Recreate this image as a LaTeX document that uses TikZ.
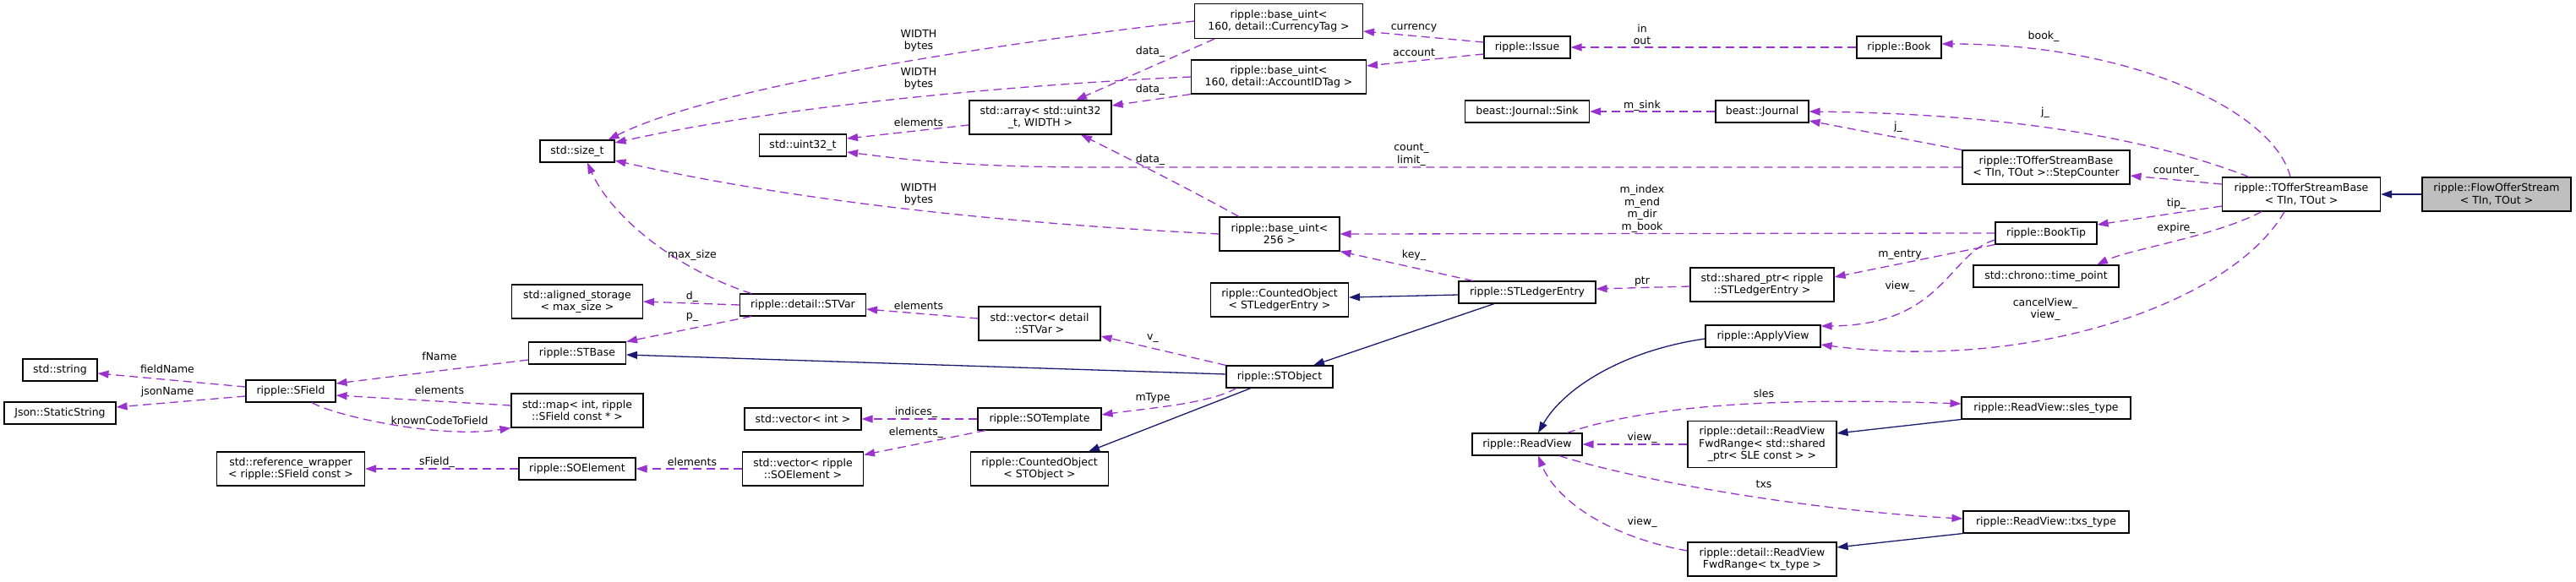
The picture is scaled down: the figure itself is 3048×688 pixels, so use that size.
\documentclass[tikz,border=0pt]{standalone}
\usepackage{fontspec}
\setmainfont{DejaVu Sans}
\usetikzlibrary{arrows.meta}
\definecolor{dxPurple}{HTML}{9A32CD}
\definecolor{dxNavy}{HTML}{191970}
\definecolor{dxGray}{HTML}{BFBFBF}
\newcommand{\dxfont}{\fontsize{12.5}{14.5}\selectfont}

\begin{document}
\begin{tikzpicture}[
  x=1pt,
  y=-1pt,
  cls/.style={
    draw=black,
    fill=white,
    line width=1.1pt,
    align=center,
    inner sep=0pt,
    font=\dxfont
  },
  current/.style={cls, fill=dxGray},
  elabel/.style={font=\dxfont, align=center, inner sep=0pt},
  member/.style={
    draw=dxPurple,
    line width=1.3pt,
    dash pattern=on 10pt off 6pt,
    -{Triangle[length=13pt,width=9pt]}
  },
  inherit/.style={
    draw=dxNavy,
    line width=1.3pt,
    -{Triangle[length=13pt,width=9pt]}
  }
]

\path[use as bounding box] (0,0) rectangle (3048,688);

% classes, column by column
\node[cls, minimum width=88, minimum height=26] (stdstring) at (71,438) {std::string};
\node[cls, minimum width=132, minimum height=26] (staticstr) at (71,489) {Json::StaticString};

\node[cls, minimum width=106, minimum height=26] (sfield) at (344,463) {ripple::SField};
\node[cls, minimum width=175, minimum height=40] (refwrap) at (344,555)
  {std::reference\_wrapper\\< ripple::SField const >};

\node[cls, minimum width=88, minimum height=26] (sizet) at (683,179) {std::size\_t};
\node[cls, minimum width=155, minimum height=40] (alignstor) at (683,357)
  {std::aligned\_storage\\< max\_size >};
\node[cls, minimum width=115, minimum height=26] (stbase) at (683,418) {ripple::STBase};
\node[cls, minimum width=156, minimum height=40] (stdmap) at (683,486)
  {std::map< int, ripple\\::SField const * >};
\node[cls, minimum width=138, minimum height=26] (soelem) at (683,555) {ripple::SOElement};

\node[cls, minimum width=103, minimum height=26] (uint32) at (950,172) {std::uint32\_t};
\node[cls, minimum width=149, minimum height=26] (stvar) at (950,361) {ripple::detail::STVar};
\node[cls, minimum width=138, minimum height=26] (vecint) at (950,496) {std::vector< int >};
\node[cls, minimum width=143, minimum height=40] (vecsoelem) at (950,555)
  {std::vector< ripple\\::SOElement >};

\node[cls, minimum width=168, minimum height=40] (stdarray) at (1231,139)
  {std::array< std::uint32\\\_t, WIDTH >};
\node[cls, minimum width=144, minimum height=40] (vecstvar) at (1230,383)
  {std::vector< detail\\::STVar >};
\node[cls, minimum width=146, minimum height=26] (sotemplate) at (1230,496) {ripple::SOTemplate};
\node[cls, minimum width=163, minimum height=40] (cntstobj) at (1230,555)
  {ripple::CountedObject\\< STObject >};

\node[cls, minimum width=199, minimum height=41] (uintcur) at (1513,25)
  {ripple::base\_uint<\\ 160, detail::CurrencyTag >};
\node[cls, minimum width=207, minimum height=40] (uintacc) at (1513,91)
  {ripple::base\_uint<\\ 160, detail::AccountIDTag >};
\node[cls, minimum width=142, minimum height=40] (uint256) at (1514,277)
  {ripple::base\_uint<\\ 256 >};
\node[cls, minimum width=163, minimum height=40] (cntsle) at (1514,355)
  {ripple::CountedObject\\< STLedgerEntry >};
\node[cls, minimum width=126, minimum height=26] (stobject) at (1514,446) {ripple::STObject};

\node[cls, minimum width=102, minimum height=26] (issue) at (1807,56) {ripple::Issue};
\node[cls, minimum width=147, minimum height=26] (sink) at (1807,132) {beast::Journal::Sink};
\node[cls, minimum width=162, minimum height=26] (stle) at (1807,346) {ripple::STLedgerEntry};
\node[cls, minimum width=130, minimum height=26] (readview) at (1807,526) {ripple::ReadView};

\node[cls, minimum width=110, minimum height=26] (journal) at (2085,132) {beast::Journal};
\node[cls, minimum width=170, minimum height=40] (sharedptr) at (2085,337)
  {std::shared\_ptr< ripple\\::STLedgerEntry >};
\node[cls, minimum width=136, minimum height=26] (applyview) at (2086,398) {ripple::ApplyView};
\node[cls, minimum width=176, minimum height=55] (fwdsle) at (2085,526)
  {ripple::detail::ReadView\\FwdRange< std::shared\\\_ptr< SLE const > >};
\node[cls, minimum width=176, minimum height=40] (fwdtx) at (2085,662)
  {ripple::detail::ReadView\\FwdRange< tx\_type >};

\node[cls, minimum width=100, minimum height=26] (book) at (2247,56) {ripple::Book};
\node[cls, minimum width=198, minimum height=40] (stepcnt) at (2421,198)
  {ripple::TOfferStreamBase\\< TIn, TOut >::StepCounter};
\node[cls, minimum width=120, minimum height=26] (booktip) at (2421,276) {ripple::BookTip};
\node[cls, minimum width=172, minimum height=26] (timepoint) at (2421,327) {std::chrono::time\_point};
\node[cls, minimum width=200, minimum height=26] (slestype) at (2421,483) {ripple::ReadView::sles\_type};
\node[cls, minimum width=196, minimum height=26] (txstype) at (2421,618) {ripple::ReadView::txs\_type};

\node[cls, minimum width=187, minimum height=40] (tosbase) at (2723,230)
  {ripple::TOfferStreamBase\\< TIn, TOut >};
\node[current, minimum width=176, minimum height=40] (flowos) at (2954,230)
  {ripple::FlowOfferStream\\< TIn, TOut >};

% inheritance
\draw[inherit] (flowos.west) -- (tosbase.east);
\draw[inherit] ([yshift=-3pt]stle.west) -- ([yshift=3pt]cntsle.east);
\draw[inherit] ([xshift=-39pt]stle.south) -- ([xshift=40pt]stobject.north);
\draw[inherit] ([yshift=3pt]stobject.west) -- ([yshift=-2pt]stbase.east);
\draw[inherit] ([xshift=-34pt]stobject.south) -- ([xshift=58pt]cntstobj.north);
\draw[inherit] ([yshift=-3pt]applyview.west) .. controls (1920,415) and (1850,460) .. ([xshift=13pt]readview.north);
\draw[inherit] (slestype.south west) -- ([yshift=13pt]fwdsle.east);
\draw[inherit] (txstype.south west) -- ([yshift=14pt]fwdtx.east);

% members
\draw[member] (uintcur.west) .. controls (1150,55) and (840,105) .. ([xshift=-8pt]sizet.north east);
\draw[member] (uintacc.west) .. controls (1250,98) and (950,120) .. ([yshift=10pt]sizet.east);
\draw[member] (uint256.west) .. controls (1200,265) and (950,240) .. ([yshift=-11pt]sizet.east);
\draw[member] ([xshift=-61pt]stvar.north) .. controls (790,315) and (720,250) .. ([xshift=12pt]sizet.south);
\draw[member] ([xshift=-76pt]uintcur.south) -- ([xshift=42pt]stdarray.north);
\draw[member] (uintacc.south west) -- ([yshift=14pt]stdarray.east);
\draw[member] ([xshift=-48pt]uint256.north) .. controls (1400,220) and (1320,180) .. ([xshift=48pt]stdarray.south);
\draw[member] ([yshift=-9pt]stdarray.west) -- ([yshift=8pt]uint32.east);
\draw[member] (stepcnt.west) -- (1300,198) .. controls (1150,198) and (1080,190) .. ([yshift=-8pt]uint32.east);
\draw[member] ([yshift=6pt]issue.west) -- ([yshift=-12pt]uintcur.east);
\draw[member] ([yshift=-8pt]issue.west) -- ([yshift=13pt]uintacc.east);
\draw[member] (book.west) -- (issue.east);
\draw[member] ([xshift=-13pt]tosbase.north) .. controls (2690,130) and (2520,52) .. ([yshift=4pt]book.east);
\draw[member] (journal.west) -- (sink.east);
\draw[member] ([xshift=-62pt]tosbase.north) .. controls (2560,170) and (2400,135) .. (journal.east);
\draw[member] (stepcnt.north west) -- ([yshift=-11pt]journal.east);
\draw[member] ([yshift=12pt]tosbase.west) -- ([yshift=-10pt]stepcnt.east);
\draw[member] ([yshift=-14pt]tosbase.west) -- ([yshift=10pt]booktip.east);
\draw[member] ([xshift=-47pt]tosbase.south) .. controls (2620,280) and (2520,295) .. ([xshift=60pt]timepoint.north);
\draw[member] ([xshift=-20pt]tosbase.south) .. controls (2640,360) and (2400,440) .. ([yshift=-10pt]applyview.east);
\draw[member] (booktip.west) -- (uint256.east);
\draw[member] (booktip.south west) -- ([yshift=9pt]sharedptr.east);
\draw[member] ([yshift=-8pt]booktip.west) .. controls (2305,300) and (2300,385) .. ([yshift=12pt]applyview.east);
\draw[member] ([yshift=-2pt]sharedptr.west) -- ([yshift=4pt]stle.east);
\draw[member] ([xshift=-64pt]stle.north) -- (uint256.south east);
\draw[member] ([yshift=6pt]vecstvar.west) -- ([yshift=-5pt]stvar.east);
\draw[member] (stobject.north west) -- ([yshift=-15pt]vecstvar.east);
\draw[member] (stvar.west) -- (alignstor.east);
\draw[member] ([xshift=-61pt]stvar.south) -- (stbase.north east);
\draw[member] ([yshift=-8pt]stbase.west) -- ([yshift=9pt]sfield.east);
\draw[member] ([yshift=5pt]sfield.west) -- ([yshift=-4pt]stdstring.east);
\draw[member] ([yshift=-6pt]sfield.west) -- ([yshift=7pt]staticstr.east);
\draw[member] ([yshift=6pt]stdmap.west) -- ([yshift=-5pt]sfield.east);
\draw[member] ([xshift=25pt]sfield.south) .. controls (395,492) and (520,520) .. (stdmap.south west);
\draw[member] ([xshift=-51pt]stobject.south) .. controls (1430,478) and (1360,483) .. ([yshift=5pt]sotemplate.east);
\draw[member] (sotemplate.west) -- (vecint.east);
\draw[member] ([xshift=-64pt]sotemplate.south) -- ([yshift=-4pt]vecsoelem.north east);
\draw[member] (vecsoelem.west) -- (soelem.east);
\draw[member] (soelem.west) -- (refwrap.east);
\draw[member] ([xshift=47pt]readview.north) .. controls (1950,480) and (2100,470) .. ([yshift=5pt]slestype.west);
\draw[member] (fwdsle.west) -- (readview.east);
\draw[member] ([xshift=38pt]readview.south) .. controls (1940,570) and (2150,605) .. ([yshift=4pt]txstype.west);
\draw[member] ([yshift=10pt]fwdtx.west) .. controls (1900,635) and (1840,590) .. ([xshift=13pt]readview.south);

% edge labels
\node[elabel] (lWidthCur) at (1087,48) {WIDTH\\bytes};
\node[elabel] (lWidthAcc) at (1087,93) {WIDTH\\bytes};
\node[elabel] (lWidthBig) at (1087,230) {WIDTH\\bytes};
\node[elabel] (lDataCur) at (1361,61) {data\_};
\node[elabel] (lDataAcc) at (1361,106) {data\_};
\node[elabel] (lDataBig) at (1361,189) {data\_};
\node[elabel] (lElemArr) at (1087,145) {elements};
\node[elabel] (lMaxSize) at (819,302) {max\_size};
\node[elabel] (lD) at (819,351) {d\_};
\node[elabel] (lP) at (819,375) {p\_};
\node[elabel] (lElemVar) at (1087,362) {elements};
\node[elabel] (lV) at (1364,401) {v\_};
\node[elabel] (lFName) at (520,422) {fName};
\node[elabel] (lFieldName) at (198,437) {fieldName};
\node[elabel] (lJsonName) at (198,464) {jsonName};
\node[elabel] (lElemMap) at (520,462) {elements};
\node[elabel] (lKnown) at (520,498) {knownCodeToField};
\node[elabel] (lMType) at (1364,471) {mType};
\node[elabel] (lIndices) at (1084,488) {indices\_};
\node[elabel] (lElemTpl) at (1084,512) {elements\_};
\node[elabel] (lSField) at (517,547) {sField\_};
\node[elabel] (lElemSoe) at (819,547) {elements};
\node[elabel] (lCurrency) at (1673,33) {currency};
\node[elabel] (lAccount) at (1673,62) {account};
\node[elabel] (lInOut) at (1943,41) {in\\out};
\node[elabel] (lBook) at (2418,43) {book\_};
\node[elabel] (lMSink) at (1943,125) {m\_sink};
\node[elabel] (lJUpper) at (2420,133) {j\_};
\node[elabel] (lJLower) at (2246,150) {j\_};
\node[elabel] (lCount) at (1670,183) {count\_\\limit\_};
\node[elabel] (lCounter) at (2575,203) {counter\_};
\node[elabel] (lMIndex) at (1943,247) {m\_index\\m\_end\\m\_dir\\m\_book};
\node[elabel] (lTip) at (2575,241) {tip\_};
\node[elabel] (lExpire) at (2575,270) {expire\_};
\node[elabel] (lKey) at (1673,302) {key\_};
\node[elabel] (lMEntry) at (2248,302) {m\_entry};
\node[elabel] (lPtr) at (1943,333) {ptr};
\node[elabel] (lViewTip) at (2248,339) {view\_};
\node[elabel] (lCancel) at (2420,366) {cancelView\_\\view\_};
\node[elabel] (lSles) at (2087,466) {sles};
\node[elabel] (lViewSle) at (1943,518) {view\_};
\node[elabel] (lTxs) at (2087,573) {txs};
\node[elabel] (lViewTx) at (1943,618) {view\_};
\end{tikzpicture}
\end{document}
